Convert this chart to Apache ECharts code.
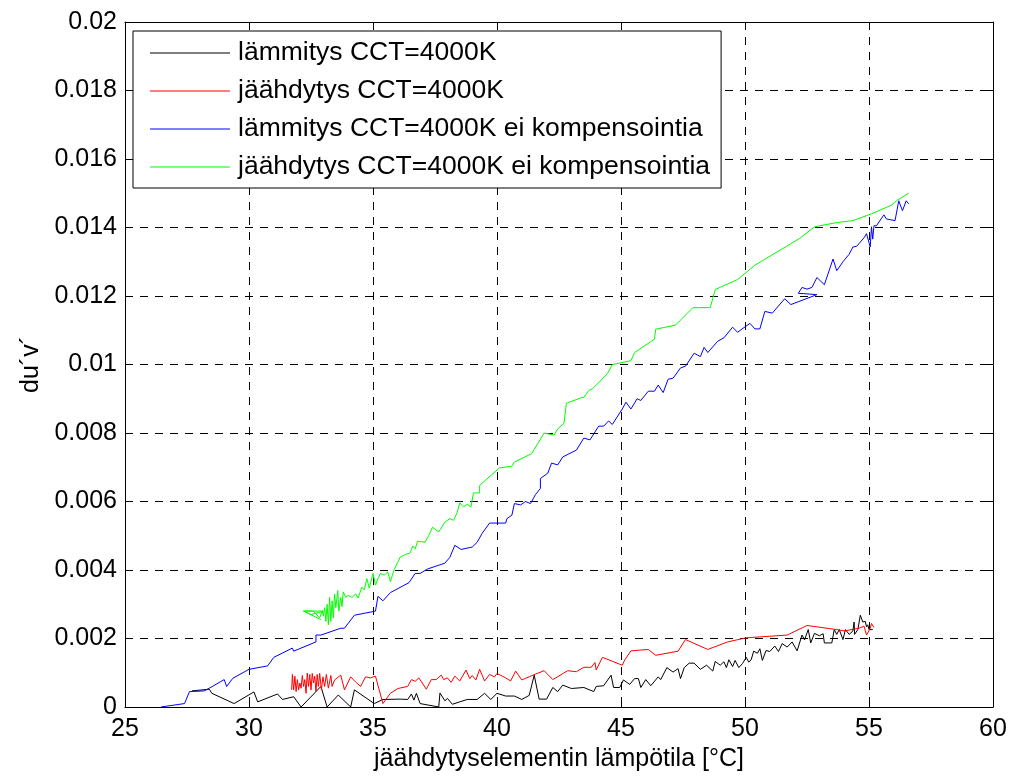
<!DOCTYPE html>
<html>
<head>
<meta charset="utf-8">
<script src="https://cdn.jsdelivr.net/npm/echarts@6/dist/echarts.min.js"></script>
<style>
html,body{margin:0;padding:0;background:#fff;}
#chart{width:1014px;height:778px;}
</style>
</head>
<body>
<div id="chart"></div>
<script>
const xTicks = [25, 30, 35, 40, 45, 50, 55, 60];
const yTicks = [0, 0.002, 0.004, 0.006, 0.008, 0.01, 0.012, 0.014, 0.016, 0.018, 0.02];
const seriesNames = [
  'lämmitys CCT=4000K',
  'jäähdytys CCT=4000K',
  'lämmitys CCT=4000K ei kompensointia',
  'jäähdytys CCT=4000K ei kompensointia'
];
const xName = 'jäähdytyselementin lämpötila [°C]';
const yName = 'du´v´';

const heating = [
  [27.7,0.00047],[28.4,0.00052],[28.5,0.0004],[29.4,0.0001],[30.2,0.00044],[30.35,0.00015],[31.15,0.00038],
  [31.35,0.00022],[31.8,0.0003],[32.1,0.0],[32.9,0.0006],[33.15,0.0],[33.6,0.00035],[34.1,0.0],[34.25,0.0005],
  [35.05,0.0001],[35.4,0.00022],[36.1,0.00023],[36.4,0.00022],[36.55,0.00038],[36.65,0.0002],[36.75,0.0004],
  [36.9,0.0001],[37.65,0.0],[37.7,0.00041],[37.9,0.00018],[38.0,0.00025],[38.2,0.00008],[38.5,0.00015],
  [38.8,0.00022],[39.2,0.00022],[39.5,0.0004],[39.75,0.00022],[40.0,0.0004],[40.35,0.00032],[40.7,0.00032],
  [41.0,0.00022],[41.3,0.00034],[41.5,0.00093],[41.7,0.00023],[42.0,0.00023],[42.25,0.00057],[42.45,0.00045],
  [42.65,0.00064],[43.0,0.00054],[43.5,0.00057],[43.9,0.00045],[44.0,0.0006],[44.3,0.00062],[44.6,0.00093],
  [44.7,0.00057],[44.95,0.00057],[45.1,0.00079],[45.35,0.00066],[45.55,0.00083],[45.7,0.00083],[45.8,0.00057],
  [46.0,0.0008],[46.2,0.00062],[46.5,0.00088],[46.6,0.0008],[46.85,0.00115],[47.1,0.00102],[47.3,0.00112],
  [47.4,0.00083],[47.55,0.00115],[47.75,0.00128],[47.95,0.00128],[48.2,0.0011],[48.45,0.00122],[48.7,0.00105],
  [48.8,0.00133],[49.0,0.00122],[49.15,0.00132],[49.25,0.00115],[49.35,0.00138],[49.5,0.00118],[49.6,0.00136],
  [49.75,0.00115],[49.9,0.00127],[50.05,0.00145],[50.15,0.00131],[50.25,0.00138],[50.35,0.00163],[50.5,0.00157],
  [50.6,0.0017],[50.7,0.00136],[50.85,0.00165],[51.0,0.00162],[51.2,0.00178],[51.35,0.00162],[51.5,0.00185],
  [51.7,0.00175],[51.9,0.0019],[52.1,0.00164],[52.3,0.0021],[52.4,0.00196],[52.55,0.00226],[52.65,0.00187],
  [52.8,0.00215],[53.0,0.00208],[53.15,0.00214],[53.2,0.00187],[53.5,0.00187],[53.6,0.00226],[53.7,0.00212],
  [53.8,0.00226],[53.95,0.00197],[54.05,0.00226],[54.2,0.00212],[54.35,0.00222],[54.4,0.00248],[54.42,0.00212],
  [54.55,0.00226],[54.65,0.00268],[54.75,0.00248],[54.85,0.0025],[54.9,0.00234],[54.95,0.0024],[55.0,0.00226],
  [55.15,0.00226]
];

const cooling = [
  [55.2,0.00232],[55.1,0.00244],[55.05,0.0023],[54.9,0.0021],[54.8,0.00236],[54.6,0.0023],[54.0,0.00222],
  [53.7,0.00226],[52.5,0.00238],[51.7,0.0021],[50.05,0.00202],[49.3,0.0019],[48.5,0.00168],[47.6,0.00197],
  [47.3,0.00163],[46.4,0.00151],[46.1,0.00168],[45.4,0.00164],[45.15,0.00137],[45.05,0.00122],[44.25,0.00145],
  [44.0,0.00108],[43.95,0.0013],[43.8,0.00116],[43.5,0.00116],[43.2,0.00103],[42.85,0.00106],[42.25,0.0008],
  [41.9,0.00106],[41.55,0.00096],[41.0,0.00079],[40.75,0.00105],[40.55,0.00076],[40.35,0.00085],[40.0,0.00098],
  [39.9,0.00088],[39.7,0.00095],[39.5,0.00076],[39.3,0.0011],[39.15,0.00079],[39.0,0.00092],[38.9,0.00083],
  [38.75,0.00108],[38.5,0.00076],[38.3,0.0009],[38.15,0.00072],[38.0,0.00085],[37.85,0.0008],[37.75,0.00093],
  [37.55,0.0008],[37.35,0.0008],[37.15,0.00052],[36.85,0.00085],[36.7,0.00075],[36.55,0.0008],[36.4,0.0006],
  [36.0,0.00054],[35.7,0.0004],[35.4,0.0001],[35.1,0.0009],[34.9,0.00085],[34.7,0.00088],[34.5,0.0006],
  [34.3,0.00073],[34.1,0.00088],[33.85,0.0005],[33.7,0.00093],[33.45,0.00079],[33.35,0.0006],[33.3,0.00092],
  [33.2,0.00055],[33.12,0.00095],[33.05,0.0006],[32.98,0.00088],[32.92,0.0005],[32.85,0.00098],[32.8,0.0006],
  [32.75,0.00095],[32.7,0.00045],[32.65,0.0009],[32.6,0.0007],[32.55,0.00098],[32.5,0.0005],[32.45,0.00095],
  [32.4,0.0006],[32.35,0.00099],[32.3,0.0004],[32.25,0.0008],[32.2,0.0006],[32.15,0.00092],[32.1,0.00055],
  [32.05,0.0007],[32.0,0.0005],[31.95,0.0008],[31.9,0.00045],[31.85,0.0009],[31.8,0.0005],[31.75,0.00095],
  [31.72,0.0005]
];

const heatingNoComp = [
  [26.45,0],[27.4,0.0001],[27.6,0.00045],[28.2,0.00047],[28.4,0.00055],[29.0,0.0008],[29.1,0.0006],
  [29.35,0.00084],[30.0,0.0011],[30.75,0.0012],[31.0,0.00145],[31.75,0.00172],[31.8,0.00163],[32.7,0.0019],
  [32.7,0.0021],[32.9,0.0021],[33.7,0.0023],[33.85,0.0023],[34.25,0.00268],[35.1,0.0028],[35.2,0.00323],
  [35.4,0.0031],[35.7,0.00334],[36.45,0.00363],[36.7,0.0039],[36.9,0.0039],[37.2,0.00403],[37.9,0.0042],
  [38.1,0.00437],[38.3,0.00472],[38.55,0.0046],[39.0,0.00467],[39.2,0.00481],[39.4,0.00507],[39.7,0.00537],
  [40.35,0.00537],[40.4,0.0055],[40.6,0.0056],[40.7,0.00594],[40.95,0.0059],[41.15,0.006],[41.35,0.00594],
  [41.55,0.0062],[41.75,0.00638],[41.75,0.00667],[42.05,0.00683],[42.2,0.00712],[42.45,0.00707],[42.65,0.0073],
  [43.2,0.0075],[43.5,0.00785],[43.75,0.0078],[44.1,0.0082],[44.3,0.0082],[44.5,0.00835],[44.65,0.00825],
  [45.05,0.0087],[45.2,0.0089],[45.4,0.0087],[45.65,0.009],[45.8,0.00895],[46.1,0.00922],[46.35,0.00922],
  [46.5,0.0094],[46.7,0.00918],[46.9,0.00957],[47.1,0.0096],[47.4,0.0099],[47.6,0.00995],[47.95,0.01033],
  [48.2,0.01023],[48.35,0.0105],[48.5,0.01035],[48.9,0.01068],[49.15,0.01078],[49.5,0.01109],[49.7,0.01094],
  [50.0,0.0111],[50.2,0.0112],[50.4,0.01104],[50.6,0.01104],[50.8,0.01155],[51.1,0.0115],[51.6,0.01192],
  [51.85,0.01175],[52.9,0.01204],[52.15,0.01208],[52.3,0.01225],[52.5,0.0122],[52.7,0.01225],[52.9,0.01254],
  [53.2,0.01233],[53.55,0.01308],[53.7,0.01274],[53.95,0.013],[54.2,0.01322],[54.35,0.01343],[54.5,0.01345],
  [54.8,0.0137],[54.9,0.01382],[55.05,0.01343],[55.1,0.01402],[55.15,0.01366],[55.2,0.01405],[55.3,0.01405],
  [55.6,0.01437],[55.7,0.01425],[56.05,0.0142],[56.2,0.01478],[56.35,0.01449],[56.5,0.01478],[56.6,0.01469]
];

const coolingNoComp = [
  [56.6,0.015],[56.15,0.0148],[55.9,0.01465],[55.1,0.0144],[54.35,0.0142],[53.75,0.01415],[52.8,0.01402],
  [52.2,0.01368],[50.4,0.0129],[49.7,0.01248],[48.8,0.01219],[48.6,0.01166],[47.9,0.01166],[47.2,0.01115],
  [46.4,0.01103],[46.35,0.01074],[45.55,0.01035],[45.4,0.01011],[44.65,0.01],[44.45,0.00973],[43.85,0.00929],
  [43.7,0.00924],[43.5,0.00904],[43.4,0.00903],[42.8,0.00887],[42.7,0.00828],[42.45,0.00812],[42.3,0.00794],
  [41.9,0.008],[41.4,0.0074],[40.7,0.00715],[40.6,0.00703],[40.1,0.00698],[39.3,0.00647],[39.3,0.00625],
  [39.05,0.00625],[38.95,0.00584],[38.8,0.00592],[38.65,0.00584],[38.5,0.00596],[38.4,0.00569],[38.25,0.00545],
  [38.1,0.0055],[37.9,0.0054],[37.65,0.00511],[37.4,0.00525],[37.25,0.00501],[37.1,0.00481],[36.8,0.00484],
  [36.7,0.00462],[36.6,0.0047],[36.5,0.0045],[36.3,0.00445],[36.1,0.00438],[36.0,0.00423],[35.85,0.004],
  [35.7,0.00366],[35.6,0.00394],[35.45,0.00385],[35.3,0.0039],[35.2,0.00375],[35.1,0.00356],[35.0,0.0039],
  [34.85,0.00347],[34.75,0.00375],[34.65,0.00342],[34.55,0.0035],[34.4,0.00318],[34.3,0.0033],[34.15,0.0032],
  [34.0,0.00326],[33.9,0.0032],[33.8,0.00336],[33.75,0.00293],[33.7,0.0032],[33.62,0.0028],[33.58,0.0034],
  [33.5,0.0029],[33.45,0.0033],[33.4,0.0026],[33.35,0.0031],[33.3,0.0025],[33.25,0.0032],[33.2,0.0024],
  [33.15,0.003],[33.1,0.0025],[33.05,0.0029],[33.0,0.00265],[32.95,0.0028],[32.85,0.0026],[32.6,0.0028],
  [32.2,0.0028],[33.0,0.0028],[32.5,0.0027],[32.2,0.0028],[32.9,0.00255]
];

const seriesData = [heating, cooling, heatingNoComp, coolingNoComp];
const seriesColors = ['#000000', '#ff0000', '#0000ff', '#00ff00'];

const FONT = 'Liberation Sans, Arial, Helvetica, sans-serif';
const chart = echarts.init(document.getElementById('chart'), null, {renderer: 'canvas'});

function yFmt(v) { return String(+(+v).toFixed(4)); }

const baseAxisLine = {show: true, onZero: false, lineStyle: {color: '#000', width: 1}};
const tickStyle = {show: true, inside: true, length: 7, lineStyle: {color: '#000', width: 1}};
const gridLine = {show: true, lineStyle: {color: '#000', width: 1, type: [8, 7]}};

chart.setOption({
  animation: false,
  backgroundColor: '#ffffff',
  grid: {left: 125, right: 21, top: 22, bottom: 71, containLabel: false},
  legend: {
    data: seriesNames.map(n => ({name: n, icon: 'rect'})),
    orient: 'vertical',
    left: 133,
    top: 31,
    backgroundColor: '#ffffff',
    borderColor: '#000',
    borderWidth: 1,
    borderRadius: 0,
    padding: [7, 11, 6, 17],
    itemWidth: 80,
    itemHeight: 1,
    itemGap: 8,
    textStyle: {fontFamily: FONT, fontSize: 26.5, color: '#000', lineHeight: 30, padding: [0, 0, 0, 3]}
  },
  xAxis: [{
    type: 'value', min: 25, max: 60, interval: 5, position: 'bottom',
    name: xName, nameLocation: 'middle', nameGap: 40,
    nameTextStyle: {fontFamily: FONT, fontSize: 25, color: '#000'},
    axisLine: baseAxisLine, axisTick: tickStyle,
    axisLabel: {fontFamily: FONT, fontSize: 25, color: '#000', margin: 10},
    splitLine: gridLine
  }, {
    type: 'value', min: 25, max: 60, interval: 5, position: 'top',
    axisLine: baseAxisLine, axisTick: tickStyle, axisLabel: {show: false}, splitLine: {show: false}
  }],
  yAxis: [{
    type: 'value', min: 0, max: 0.02, interval: 0.002, position: 'left',
    name: yName, nameLocation: 'middle', nameGap: 78, nameRotate: 90,
    nameTextStyle: {fontFamily: FONT, fontSize: 25, color: '#000'},
    axisLine: baseAxisLine, axisTick: tickStyle,
    axisLabel: {fontFamily: FONT, fontSize: 25, color: '#000', margin: 8, formatter: yFmt},
    splitLine: gridLine
  }, {
    type: 'value', min: 0, max: 0.02, interval: 0.002, position: 'right',
    axisLine: baseAxisLine, axisTick: tickStyle, axisLabel: {show: false}, splitLine: {show: false}
  }],
  series: seriesNames.map((n, i) => ({
    name: n,
    type: 'line',
    xAxisIndex: 0,
    yAxisIndex: 0,
    data: seriesData[i],
    symbol: 'none',
    showSymbol: false,
    smooth: false,
    lineStyle: {color: seriesColors[i], width: 1},
    itemStyle: {color: seriesColors[i]},
    z: 3 + i
  }))
});
</script>
</body>
</html>
